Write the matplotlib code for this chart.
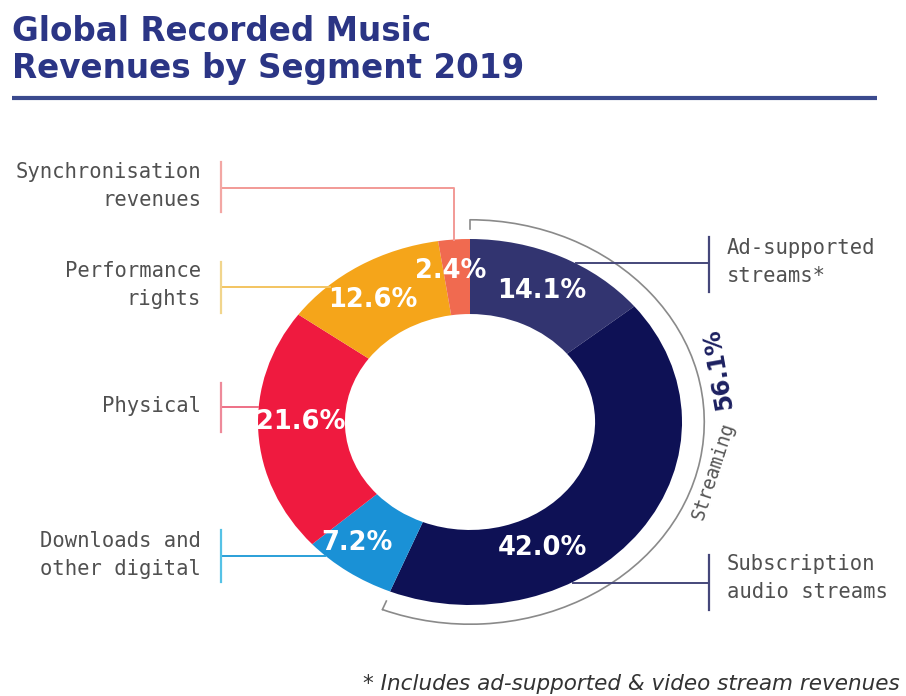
import numpy as np
import matplotlib.pyplot as plt
from matplotlib.patches import Arc

####################################
#               Data               #
####################################

segments = ["Ad-supported streams*", "Subscription audio streams",
            "Downloads and other digital", "Physical",
            "Performance rights", "Synchronisation revenues"]
shares = [14.1, 42.0, 7.2, 21.6, 12.6, 2.4]
colors = ["#323470", "#0e1155", "#1a91d6", "#ef1a3f", "#f5a51a", "#f06a50"]
streaming_total = 56.1

####################################
#              Figure              #
####################################

W, H = 906, 696
fig = plt.figure(figsize=(W / 100, H / 100), dpi=100)
fig.patch.set_facecolor("white")

# donut centre and radii in pixels (the ring is drawn slightly wide)
cx, cy, rx, ry = 470, 422, 212, 183
lim = 1.3
ax = fig.add_axes([(cx - lim * rx) / W, (H - cy - lim * ry) / H,
                   2 * lim * rx / W, 2 * lim * ry / H])
wedges, _ = ax.pie(shares, colors=colors, startangle=90, counterclock=False,
                   radius=1.0, wedgeprops=dict(width=0.41, edgecolor="none"))
ax.set_aspect("auto")
ax.set_xlim(-lim, lim)
ax.set_ylim(-lim, lim)
ax.axis("off")

# percentage labels, placed near the middle of each ring segment
label_shift = {0: 0.0, 1: -27.0, 2: -3.7, 3: -3.0, 4: 3.0, 5: 2.0}
label_r = {0: 0.79, 1: 0.77, 2: 0.85, 3: 0.80, 4: 0.81, 5: 0.83}
for i, w in enumerate(wedges):
    mid = 0.5 * (w.theta1 + w.theta2) + label_shift.get(i, 0.0)
    r = label_r[i]
    x, y = r * np.cos(np.radians(mid)), r * np.sin(np.radians(mid))
    ax.text(x, y, f"{shares[i]:.1f}%", color="white", fontsize=18.5,
            fontweight="bold", ha="center", va="center")

# streaming bracket around the two streaming segments
t_end = 90
t_start = 90 - 360 * streaming_total / 100
ra = 1.105
ax.add_patch(Arc((0, 0), 2 * ra, 2 * ra, theta1=t_start, theta2=t_end,
                 color="#8a8a8a", lw=1.2))
for t in (t_start, t_end):
    c, s = np.cos(np.radians(t)), np.sin(np.radians(t))
    ax.plot([ra * c, (ra - 0.05) * c], [ra * s, (ra - 0.05) * s],
            color="#8a8a8a", lw=1.2)

ang = np.radians(-13)
ax.text(1.18 * np.cos(ang), 1.18 * np.sin(ang), "Streaming", rotation=72,
        family="DejaVu Sans Mono", fontsize=13.5, color="#555555",
        ha="center", va="center")
ang = np.radians(14)
ax.text(1.205 * np.cos(ang), 1.205 * np.sin(ang), f"{streaming_total}%",
        rotation=100, fontsize=17, fontweight="bold", color="#1c2060",
        ha="center", va="center")

####################################
#     Title, callouts, footnote    #
####################################

ov = fig.add_axes([0, 0, 1, 1], zorder=3)
ov.set_xlim(0, W)
ov.set_ylim(H, 0)
ov.axis("off")

navy = "#2b3585"
ov.text(12, 41, "Global Recorded Music", fontsize=23.5, fontweight="bold",
        color=navy, va="baseline")
ov.text(12, 78, "Revenues by Segment 2019", fontsize=23.5, fontweight="bold",
        color=navy, va="baseline")
ov.plot([12, 877], [98, 98], color="#3b4a8e", lw=3, solid_capstyle="butt")

label_font = dict(family="DejaVu Sans Mono", fontsize=14.8, color="#505050")

# left side callouts: segment, bar span, text y, connector path, colours
left = [
    (5, (162, 212), 186, [(221, 188), (454, 188), (454, 240)], "#f29a96", "#f3a7a4"),
    (4, (262, 313), 285, [(221, 287), (330, 287)], "#f3c460", "#f1d58c"),
    (3, (383, 432), 406, [(221, 407), (258, 407)], "#ee7086", "#ee8a9a"),
    (2, (530, 582), 555, [(221, 556), (325, 556)], "#2a9fd8", "#55c2e6"),
]
for idx, (y0, y1), ty, path, lc, bc in left:
    ov.plot([221, 221], [y0, y1], color=bc, lw=1.6)
    xs, ys = zip(*path)
    ov.plot(xs, ys, color=lc, lw=1.4, zorder=1)
    name = segments[idx]
    if name == "Synchronisation revenues":
        name = "Synchronisation\nrevenues"
    elif name == "Performance rights":
        name = "Performance\nrights"
    elif name == "Downloads and other digital":
        name = "Downloads and\nother digital"
    ov.text(201, ty, name, ha="right", va="center", linespacing=1.45,
            **label_font)

right = [
    (0, (237, 292), 262, 576, "Ad-supported\nstreams*"),
    (1, (555, 610), 578, 573, "Subscription\naudio streams"),
]
for idx, (y0, y1), ty, x0, name in right:
    ov.plot([709, 709], [y0, y1], color="#45477a", lw=1.6)
    ov.plot([x0, 709], [ty + 1, ty + 1] if idx == 0 else [583, 583],
            color="#45477a", lw=1.4)
    ov.text(727, ty, name, ha="left", va="center", linespacing=1.45,
            **label_font)

ov.text(900, 684, "* Includes ad-supported & video stream revenues",
        ha="right", va="center", fontsize=15.5, style="italic", color="#333333")

plt.savefig("out.png", dpi=100)
